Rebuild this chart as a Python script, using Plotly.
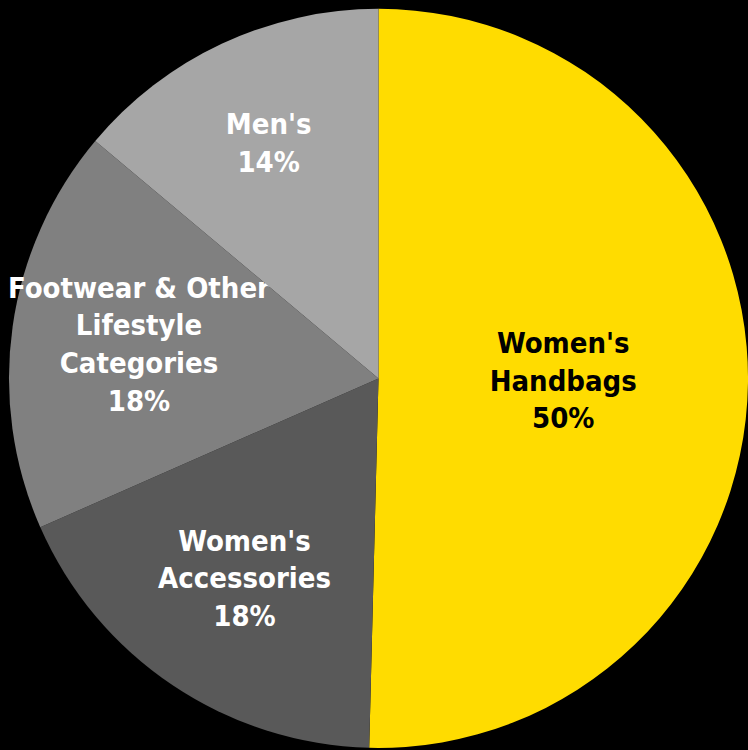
import plotly.graph_objects as go

labels = ["Women's<br>Handbags", "Women's<br>Accessories", "Footwear & Other<br>Lifestyle<br>Categories", "Men's"]
values = [50.4, 18.0, 17.7, 13.9]
colors = ["#FFDC00", "#595959", "#808080", "#A6A6A6"]
text_colors = ["#000000", "#FFFFFF", "#FFFFFF", "#FFFFFF"]

fig = go.Figure(go.Pie(
    labels=labels,
    values=values,
    sort=False,
    direction="clockwise",
    rotation=0,
    marker=dict(colors=colors, line=dict(width=0)),
    texttemplate="%{label}<br>%{percent:.0%}",
    textposition="inside",
    insidetextorientation="horizontal",
    textfont=dict(family="DejaVu Sans Condensed, DejaVu Sans", size=29, color=text_colors, weight="bold"),
    hoverinfo="skip",
    showlegend=False,
    domain=dict(x=[0.012, 1.0], y=[0.0, 0.991]),
))

fig.update_layout(
    width=748, height=750,
    margin=dict(l=0, r=0, t=0, b=0),
    paper_bgcolor="#000000",
    plot_bgcolor="#000000",
    uniformtext=dict(minsize=29, mode="show"),
)

fig.write_html("out.html")
